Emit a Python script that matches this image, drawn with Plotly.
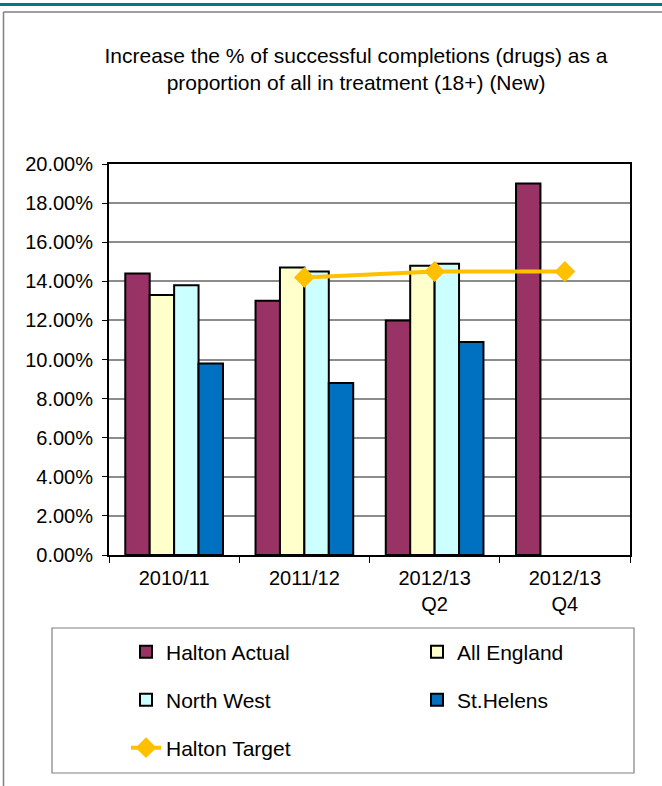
import plotly.graph_objects as go

categories = ["2010/11", "2011/12", "2012/13<br>Q2", "2012/13<br>Q4"]
halton_actual = [14.4, 13.0, 12.0, 19.0]
all_england = [13.3, 14.7, 14.8, None]
north_west = [13.8, 14.5, 14.9, None]
st_helens = [9.8, 8.8, 10.9, None]
halton_target = [None, 14.2, 14.5, 14.5]
y_ticks = [0, 2, 4, 6, 8, 10, 12, 14, 16, 18, 20]
y_tick_labels = [f"{v:.2f}%" for v in y_ticks]

W, H = 662, 786
L, R, T, B = 109, 630, 164, 555

def px(x):
    return (x - L) / (R - L)

def py(y):
    return (B - y) / (B - T)

FONT = "Arial, Liberation Sans, sans-serif"
fig = go.Figure()

bar_specs = [
    ("Halton Actual", halton_actual, "#993366", "legend"),
    ("All England", all_england, "#FFFFCC", "legend2"),
    ("North West", north_west, "#CCFFFF", "legend3"),
    ("St.Helens", st_helens, "#0070C0", "legend4"),
]
for name, vals, color, lg in bar_specs:
    fig.add_trace(go.Bar(
        x=categories, y=vals, name=name, legend=lg, showlegend=True,
        marker=dict(color=color, line=dict(color="black", width=2)),
    ))

fig.add_trace(go.Scatter(
    x=categories, y=halton_target, name="Halton Target", legend="legend5", showlegend=True,
    mode="lines+markers",
    line=dict(color="#FFC000", width=4),
    marker=dict(symbol="diamond", size=16, color="#FFC000"),
))

shapes = [
    dict(type="line", xref="paper", yref="paper", x0=px(0), x1=px(W), y0=py(4.5), y1=py(4.5),
         line=dict(color="#007A7A", width=3)),
    dict(type="line", xref="paper", yref="paper", x0=px(3.5), x1=px(W), y0=py(12), y1=py(12),
         line=dict(color="#808080", width=1.5)),
    dict(type="line", xref="paper", yref="paper", x0=px(3.5), x1=px(3.5), y0=py(12), y1=py(H),
         line=dict(color="#808080", width=1.5)),
    dict(type="rect", xref="paper", yref="paper", x0=px(52), x1=px(634), y0=py(773), y1=py(628),
         line=dict(color="#808080", width=1.2)),
]

legend_common = dict(orientation="v", xanchor="left", yanchor="middle",
                     bgcolor="rgba(0,0,0,0)", borderwidth=0,
                     font=dict(family=FONT, size=21, color="black"))
col1, col2 = px(126), px(417)
fig.update_layout(
    width=W, height=H,
    margin=dict(l=L, r=W - R, t=T, b=H - B),
    paper_bgcolor="white", plot_bgcolor="white",
    showlegend=True,
    barmode="group", bargap=0.25, bargroupgap=0,
    title=dict(text="Increase the % of successful completions (drugs) as a<br>proportion of all in treatment (18+) (New)",
               x=356 / W, xanchor="center", xref="container",
               y=1 - 63 / H, yanchor="top", yref="container",
               font=dict(family=FONT, size=21, color="black")),
    font=dict(family=FONT, size=20, color="black"),
    shapes=shapes,
    legend=dict(x=col1, y=py(652), **legend_common),
    legend2=dict(x=col2, y=py(652), **legend_common),
    legend3=dict(x=col1, y=py(700), **legend_common),
    legend4=dict(x=col2, y=py(700), **legend_common),
    legend5=dict(x=col1, y=py(748), **legend_common),
)
fig.update_xaxes(
    showline=True, linecolor="black", linewidth=2, mirror=True,
    ticks="outside", tickson="boundaries", ticklen=6, tickcolor="black", tickwidth=1,
    tickfont=dict(family=FONT, size=20), ticklabelstandoff=4,
)
fig.update_yaxes(
    range=[0, 20], tickmode="array", tickvals=y_ticks, ticktext=y_tick_labels,
    showline=True, linecolor="black", linewidth=2, mirror=True,
    ticks="outside", ticklen=5, tickcolor="black",
    showgrid=True, gridcolor="#8c8c8c", gridwidth=1.5, zeroline=False,
    tickfont=dict(family=FONT, size=20), ticklabelstandoff=5,
)

fig.write_html("out.html", config={"displayModeBar": False},
               post_script="document.body.style.margin='0';")
